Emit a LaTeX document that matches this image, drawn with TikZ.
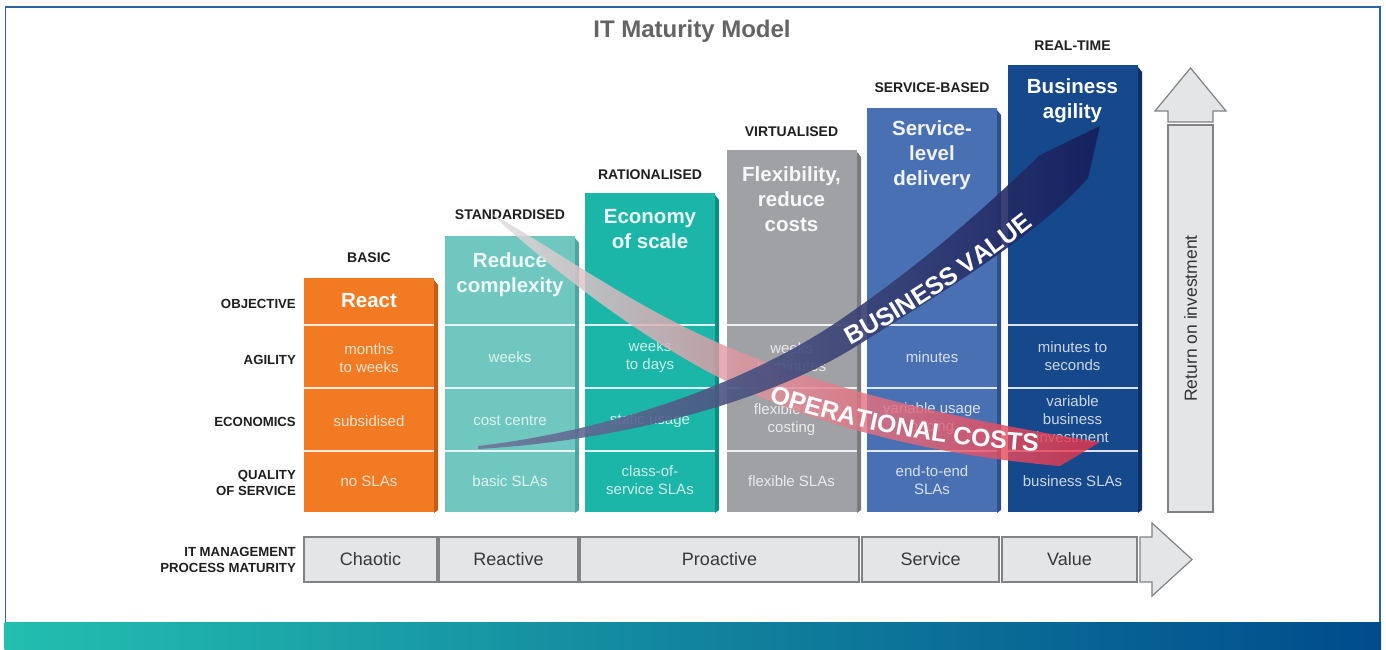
\documentclass[tikz,border=0pt]{standalone}
\usepackage{fontspec}
\setmainfont{Liberation Sans}
\usetikzlibrary{decorations.text}

% column fronts and their darker side strips
\definecolor{cOrange}{RGB}{241,122,34}
\definecolor{cOrangeS}{RGB}{196,92,20}
\definecolor{cTealL}{RGB}{112,199,191}
\definecolor{cTealLS}{RGB}{78,165,158}
\definecolor{cTeal}{RGB}{27,182,167}
\definecolor{cTealS}{RGB}{16,140,128}
\definecolor{cGray}{RGB}{160,161,165}
\definecolor{cGrayS}{RGB}{122,123,127}
\definecolor{cBlue}{RGB}{74,112,180}
\definecolor{cBlueS}{RGB}{48,80,140}
\definecolor{cNavy}{RGB}{22,72,140}
\definecolor{cNavyS}{RGB}{14,48,100}
% ribbons
\definecolor{bvTail}{RGB}{110,120,155}
\definecolor{bvMid}{RGB}{32,42,108}
\definecolor{bvHead}{RGB}{22,30,92}
\definecolor{ocTail}{RGB}{220,220,222}
\definecolor{ocMid}{RGB}{238,118,132}
\definecolor{ocHead}{RGB}{230,50,72}
% frame, band, process bar
\definecolor{frameBlue}{RGB}{45,100,165}
\definecolor{bandL}{RGB}{35,190,176}
\definecolor{bandM}{RGB}{8,140,170}
\definecolor{bandR}{RGB}{0,75,140}
\definecolor{procFill}{RGB}{228,229,230}
\definecolor{procLine}{RGB}{130,130,132}
\definecolor{titleGray}{RGB}{100,100,100}

\newcommand\ribfont{\fontsize{25}{25}\selectfont\bfseries}

% one maturity column: #1 left x, #2 top y, #3 front colour, #4 side colour
\newcommand\itcol[4]{%
  \fill[#4] (#1+130,#2+2) -- (#1+134,#2+7) -- (#1+134,510) -- (#1+130,513) -- cycle;
  \fill[#3] (#1,#2) rectangle (#1+130,512);
  \foreach \yy in {325,388,451}
    \draw[white, line width=1.6pt, opacity=0.85] (#1,\yy) -- (#1+130,\yy);
}

\tikzset{
  stage/.style={font=\fontsize{14}{16}\selectfont\bfseries, text=black!88},
  rowlab/.style={font=\fontsize{13.2}{16}\selectfont\bfseries, align=right,
    anchor=east, text=black!88, inner sep=0pt},
  head/.style={font=\fontsize{20.5}{25}\selectfont\bfseries, text=white,
    align=center, inner sep=0pt},
  cell/.style={font=\fontsize{15}{18}\selectfont, text=white, text opacity=0.78,
    align=center, inner sep=0pt},
  procbox/.style={draw=procLine, line width=1.2pt, fill=procFill,
    font=\fontsize{18}{20}\selectfont, text=black!78, minimum height=45pt,
    inner sep=0pt},
  arrowshape/.style={draw=procLine, line width=1.2pt, fill=procFill},
}

\begin{document}
\begin{tikzpicture}[x=1pt,y=-1pt]
\useasboundingbox (0,0) rectangle (1386,650);
\fill[white] (0,0) rectangle (1386,650);

% frame and bottom band
\draw[frameBlue, line width=1.6pt] (5.5,7) rectangle (1380,624);
\shade[left color=bandL, middle color=bandM, right color=bandR]
  (4.5,622) rectangle (1381,650);

\node[font=\fontsize{24}{26}\selectfont\bfseries, text=titleGray] (title)
  at (692,31) {IT Maturity Model};

% columns
\itcol{304}{278}{cOrange}{cOrangeS}
\itcol{445}{236}{cTealL}{cTealLS}
\itcol{585}{193}{cTeal}{cTealS}
\itcol{727}{150}{cGray}{cGrayS}
\itcol{867}{108}{cBlue}{cBlueS}
\itcol{1008}{65}{cNavy}{cNavyS}

% stage names
\node[stage] (s1) at (369,258) {BASIC};
\node[stage] (s2) at (510,215) {STANDARDISED};
\node[stage] (s3) at (650,175) {RATIONALISED};
\node[stage] (s4) at (791.5,132) {VIRTUALISED};
\node[stage] (s5) at (932,88) {SERVICE-BASED};
\node[stage] (s6) at (1072.5,46) {REAL-TIME};

% objectives
\node[head] (h1) at (369,301) {React};
\node[head, text opacity=0.88] (h2) at (510,274.5) {Reduce\\complexity};
\node[head, text opacity=0.92] (h3) at (650,229) {Economy\\of scale};
\node[head, text opacity=0.92] (h4) at (791.5,199) {Flexibility,\\reduce\\costs};
\node[head, text opacity=0.92] (h5) at (932,155) {Service-\\level\\delivery};
\node[head] (h6) at (1072.5,100.5) {Business\\agility};

% agility
\node[cell] (a1) at (369,358) {months\\to weeks};
\node[cell] (a2) at (510,357) {weeks};
\node[cell] (a3) at (650,357) {weeks\\to days};
\node[cell] (a4) at (791.5,357) {weeks\\to minutes};
\node[cell] (a5) at (932,357) {minutes};
\node[cell] (a6) at (1072.5,356) {minutes to\\seconds};

% economics
\node[cell] (e1) at (369,421) {subsidised};
\node[cell] (e2) at (510,421) {cost centre};
\node[cell] (e3) at (650,421) {static usage};
\node[cell] (e4) at (791.5,420) {flexible unit\\costing};
\node[cell] (e5) at (932,419) {variable usage\\pricing};
\node[cell] (e6) at (1072.5,419) {variable\\business\\investment};

% quality of service
\node[cell] (q1) at (369,481) {no SLAs};
\node[cell] (q2) at (510,481) {basic SLAs};
\node[cell] (q3) at (650,480.5) {class-of-\\service SLAs};
\node[cell] (q4) at (791.5,481) {flexible SLAs};
\node[cell] (q5) at (932,480.5) {end-to-end\\SLAs};
\node[cell] (q6) at (1072.5,481) {business SLAs};

% row labels
\node[rowlab] (r1) at (296,304) {OBJECTIVE};
\node[rowlab] (r2) at (296,360) {AGILITY};
\node[rowlab] (r3) at (296,422) {ECONOMICS};
\node[rowlab] (r4) at (296,483) {QUALITY\\OF SERVICE};

% operational costs ribbon
\shade[left color=ocTail, middle color=ocMid, right color=ocHead, fill opacity=0.82]
  (492,214) .. controls (560,252) and (640,312) .. (740,352)
  .. controls (840,392) and (960,420) .. (1100,442)
  -- (1060,466)
  .. controls (930,455) and (820,425) .. (740,388)
  .. controls (650,345) and (565,280) .. (497,219) -- cycle;

% business value ribbon
\shade[left color=bvTail, middle color=bvMid, right color=bvHead, fill opacity=0.9]
  (478,446) .. controls (600,432) and (740,388) .. (840,320)
  .. controls (930,258) and (990,203) .. (1040,155)
  -- (1100,126) -- (1088,178)
  .. controls (1040,234) and (930,300) .. (850,350)
  .. controls (750,410) and (600,442) .. (478,449) -- cycle;

% ribbon captions
\path[decorate, decoration={text along path, text align=center, text color=white,
    text={|\ribfont|OPERATIONAL COSTS}}]
  (762,399) .. controls (850,430) and (945,447) .. (1045,452);
\path[decorate, decoration={text along path, text align=center, text color=white,
    text={|\ribfont|BUSINESS VALUE}}]
  (838,352) .. controls (905,318) and (975,272) .. (1045,216);

% return on investment arrow
\draw[arrowshape] (1168,122) -- (1168,111) -- (1155,111) -- (1190.5,68)
  -- (1226,111) -- (1213,111) -- (1213,122) -- cycle;
\node[arrowshape, minimum width=45pt, minimum height=387pt, inner sep=0pt]
  (roi) at (1190.5,318.5) {};
\node[rotate=90, font=\fontsize{17.5}{20}\selectfont, text=black!80] (roitext)
  at (roi.center) {Return on investment};

% process maturity bar
\node[rowlab] (pm) at (296,560) {IT MANAGEMENT\\PROCESS MATURITY};
\node[procbox, minimum width=133pt] (p1) at (370.5,559.5) {Chaotic};
\node[procbox, minimum width=139pt] (p2) at (508.5,559.5) {Reactive};
\node[procbox, minimum width=279pt] (p3) at (719.5,559.5) {Proactive};
\node[procbox, minimum width=137pt] (p4) at (930.5,559.5) {Service};
\node[procbox, minimum width=135pt] (p5) at (1069.5,559.5) {Value};
\draw[arrowshape] (1140,537) -- (1152,537) -- (1152,523) -- (1192,559.5)
  -- (1152,596) -- (1152,582) -- (1140,582) -- cycle;
\end{tikzpicture}
\end{document}
